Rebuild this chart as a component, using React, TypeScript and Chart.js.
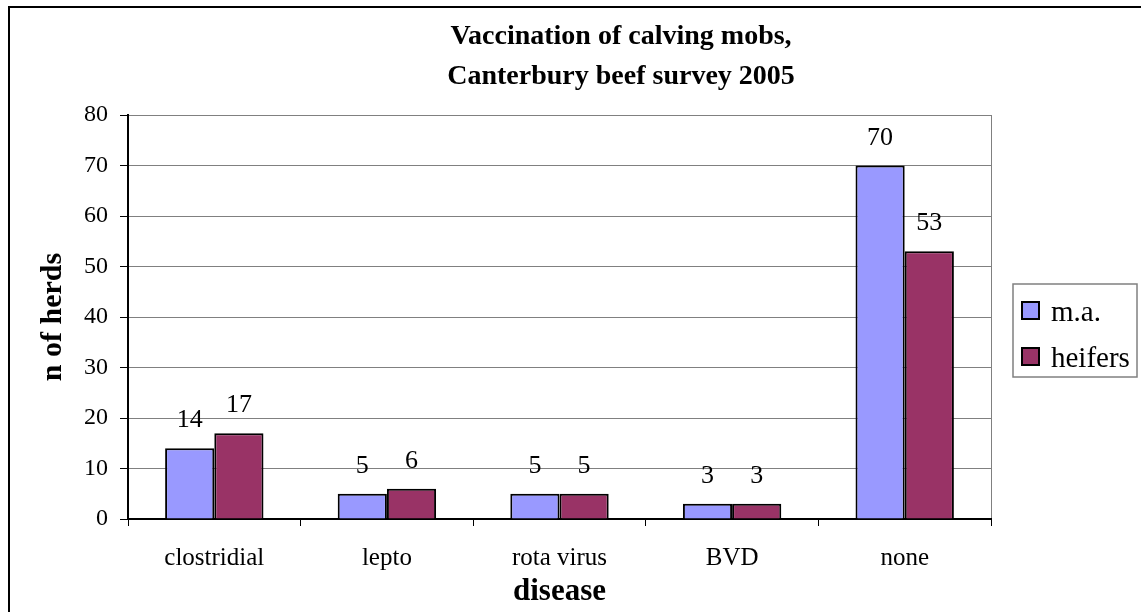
import { useEffect, useRef } from 'react';
import { Chart, registerables } from 'chart.js';

Chart.register(...registerables);

const categories = ['clostridial', 'lepto', 'rota virus', 'BVD', 'none'];
const maValues = [14, 5, 5, 3, 70];
const heiferValues = [17, 6, 5, 3, 53];
const seriesNames = ['m.a.', 'heifers'];
const seriesColors = ['#9999FF', '#993366'];
const yMin = 0;
const yMax = 80;
const yStep = 10;
const titleLines = ['Vaccination of calving mobs,', 'Canterbury beef survey 2005'];
const yAxisTitle = 'n of herds';
const xAxisTitle = 'disease';

const FONT = "'Liberation Serif', 'Times New Roman', serif";

const framePlugin = {
  id: 'frame',
  beforeDraw(chart: any) {
    const ctx = chart.ctx;
    ctx.save();
    ctx.fillStyle = '#ffffff';
    ctx.fillRect(0, 0, chart.width, chart.height);
    ctx.strokeStyle = '#000000';
    ctx.lineWidth = 2;
    ctx.beginPath();
    ctx.moveTo(9, chart.height + 10);
    ctx.lineTo(9, 7);
    ctx.lineTo(chart.width + 10, 7);
    ctx.stroke();
    ctx.restore();
  },
  afterDraw(chart: any) {
    const ctx = chart.ctx;
    const a = chart.chartArea;
    ctx.save();
    ctx.strokeStyle = '#808080';
    ctx.lineWidth = 1;
    ctx.beginPath();
    ctx.moveTo(Math.round(a.right) + 0.5, a.top);
    ctx.lineTo(Math.round(a.right) + 0.5, a.bottom - 1);
    ctx.stroke();
    ctx.restore();
  },
};

const dataLabelPlugin = {
  id: 'dataLabels',
  afterDatasetsDraw(chart: any) {
    const ctx = chart.ctx;
    ctx.save();
    ctx.fillStyle = '#000000';
    ctx.font = `26px ${FONT}`;
    ctx.textAlign = 'center';
    ctx.textBaseline = 'alphabetic';
    chart.data.datasets.forEach((ds: any, i: number) => {
      const meta = chart.getDatasetMeta(i);
      meta.data.forEach((el: any, j: number) => {
        ctx.fillText(String(ds.data[j]), el.x, el.y - 21);
      });
    });
    ctx.restore();
  },
};

const boxLegendPlugin = {
  id: 'boxLegend',
  afterDraw(chart: any) {
    const ctx = chart.ctx;
    const a = chart.chartArea;
    const left = a.right + 22;
    const top = 284;
    const w = 124;
    const h = 93;
    ctx.save();
    ctx.fillStyle = '#ffffff';
    ctx.fillRect(left, top, w, h);
    ctx.strokeStyle = '#808080';
    ctx.lineWidth = 1.5;
    ctx.strokeRect(left, top, w, h);
    ctx.font = `29px ${FONT}`;
    ctx.textAlign = 'left';
    ctx.textBaseline = 'alphabetic';
    chart.data.datasets.forEach((ds: any, i: number) => {
      const cy = top + 26 + i * 46;
      ctx.fillStyle = ds.backgroundColor;
      ctx.fillRect(left + 9, cy - 8, 17, 17);
      ctx.strokeStyle = '#000000';
      ctx.lineWidth = 2;
      ctx.strokeRect(left + 9, cy - 8, 17, 17);
      ctx.fillStyle = '#000000';
      ctx.fillText(ds.label, left + 38, cy + 11);
    });
    ctx.restore();
  },
};

export default function App() {
  const ref = useRef<HTMLCanvasElement | null>(null);

  useEffect(() => {
    if (!ref.current) return;
    const chart = new Chart(ref.current, {
      type: 'bar',
      data: {
        labels: categories,
        datasets: [
          {
            label: seriesNames[0],
            data: maValues,
            backgroundColor: seriesColors[0],
            borderColor: '#000000',
            borderWidth: 2,
            barPercentage: 1,
            categoryPercentage: 0.57,
          },
          {
            label: seriesNames[1],
            data: heiferValues,
            backgroundColor: seriesColors[1],
            borderColor: '#000000',
            borderWidth: 2,
            barPercentage: 1,
            categoryPercentage: 0.57,
          },
        ],
      },
      options: {
        responsive: false,
        animation: false,
        devicePixelRatio: 1,
        layout: { padding: 0 },
        plugins: {
          legend: { display: false },
          tooltip: { enabled: false },
          title: {
            display: true,
            text: titleLines,
            color: '#000000',
            font: { family: FONT, size: 28, weight: 'bold', lineHeight: 40 / 28 },
            padding: { top: 17, bottom: 18 },
            fullSize: true,
          },
        },
        scales: {
          x: {
            offset: true,
            grid: {
              display: true,
              offset: true,
              drawOnChartArea: false,
              drawTicks: true,
              tickLength: 7,
              tickColor: '#000000',
              tickWidth: 1,
            },
            border: { display: true, color: '#000000', width: 2 },
            ticks: {
              color: '#000000',
              font: { family: FONT, size: 25 },
              padding: 17,
              maxRotation: 0,
              autoSkip: false,
            },
            title: {
              display: true,
              text: xAxisTitle,
              color: '#000000',
              font: { family: FONT, size: 31, weight: 'bold', lineHeight: 1.2 },
              padding: { top: 0, bottom: 1 },
            },
            afterFit(scale: any) {
              scale.height = 93;
            },
          },
          y: {
            min: yMin,
            max: yMax,
            grid: {
              color: '#808080',
              lineWidth: 1,
              drawTicks: true,
              tickLength: 8,
              tickColor: '#000000',
              tickWidth: 1,
            },
            border: { display: true, color: '#000000', width: 2 },
            ticks: {
              stepSize: yStep,
              color: '#000000',
              font: { family: FONT, size: 24 },
              padding: 12,
            },
            title: {
              display: true,
              text: yAxisTitle,
              color: '#000000',
              font: { family: FONT, size: 30, weight: 'bold', lineHeight: 1.2 },
              padding: { top: 35, bottom: 0 },
            },
            afterFit(scale: any) {
              scale.width = 128;
            },
          },
          legendSpace: {
            position: 'right',
            display: true,
            min: yMin,
            max: yMax,
            grid: { display: false, drawTicks: false },
            border: { display: false },
            ticks: { display: false },
            afterFit(scale: any) {
              scale.width = 251;
            },
          },
        },
      },
      plugins: [framePlugin, dataLabelPlugin, boxLegendPlugin],
    });
    return () => chart.destroy();
  }, []);

  return (
    <div
      style={{
        position: 'fixed',
        left: 0,
        top: 0,
        width: 1141,
        height: 612,
        overflow: 'hidden',
        background: '#ffffff',
      }}
    >
      <canvas ref={ref} width={1242} height={612} style={{ display: 'block' }} />
    </div>
  );
}
